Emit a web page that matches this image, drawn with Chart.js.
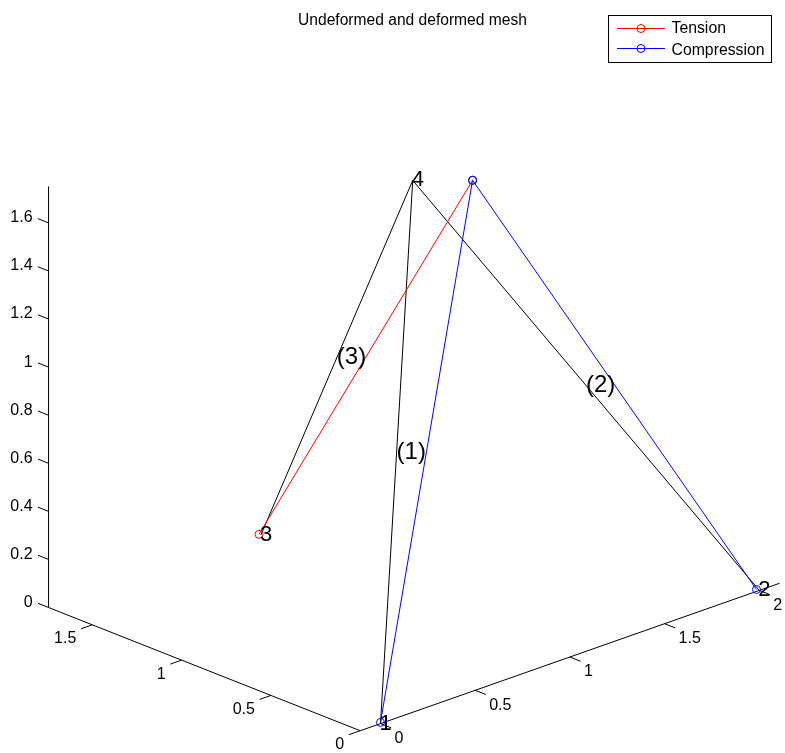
<!DOCTYPE html>
<html>
<head>
<meta charset="utf-8">
<title>Undeformed and deformed mesh</title>
<script src="https://cdn.jsdelivr.net/npm/chart.js@4"></script>
<style>
    html, body { margin: 0; padding: 0; background: #fff; }
    canvas { display: block; }
</style>
</head>
<body>
<canvas id="chart" width="785" height="753"></canvas>
<script>
const titleText = 'Undeformed and deformed mesh';
const legendNames = ['Tension', 'Compression'];
const legendColors = ['#ff0000', '#0000ff'];

const xTicks = [0, 0.5, 1, 1.5, 2];
const yTicks = [0, 0.5, 1, 1.5];
const zTicks = [0, 0.2, 0.4, 0.6, 0.8, 1, 1.2, 1.4, 1.6];
const xLimits = [-0.107, 2.107];
const yLimits = [0, 1.745];
const zLimits = [0, 1.752];

// undeformed nodes
const nodeX = [0, 2, 1, 1];
const nodeY = [0, 0, 1.73, 0.88];
const nodeZ = [0, 0, 0, 1.724];

// deformed nodes
const defX = [0, 1.985, 0.99, 1];
const defY = [0, 0, 1.73, 0.545];
const defZ = [0.005, 0.008, 0.005, 1.823];

const memberStart = [0, 1, 2];
const memberEnd = [3, 3, 3];
const memberKind = ['Compression', 'Compression', 'Tension'];

// view of the 3d box on the page, one unit of each axis in pixels
const origin = { x: 380.5, y: 723.6 };
const xStep = { x: 189.4, y: -66.6 };
const yStep = { x: -178.6, y: -70.6 };
const zStep = { x: 0, y: -240.4 };

const project = (x, y, z) => ({
    x: origin.x + x * xStep.x + y * yStep.x + z * zStep.x,
    y: origin.y + x * xStep.y + y * yStep.y + z * zStep.y,
});

const gap = { x: NaN, y: NaN };
const segment = (a, b) => [project(...a), project(...b), gap];

const axisLines = [
    ...segment([xLimits[0], 0, 0], [xLimits[1], 0, 0]),
    ...segment([xLimits[0], 0, 0], [xLimits[0], yLimits[1], 0]),
    ...segment([xLimits[0], yLimits[1], 0], [xLimits[0], yLimits[1], zLimits[1]]),
];

const tickLen = 0.06;
const tickLines = [
    ...xTicks.flatMap((t) => segment([t, 0, 0], [t, -tickLen, 0])),
    ...yTicks.flatMap((t) => segment([xLimits[0], t, 0], [xLimits[0] - tickLen, t, 0])),
    ...zTicks.flatMap((t) => segment([xLimits[0], yLimits[1], t], [xLimits[0], yLimits[1] + tickLen, t])),
];

const undeformedPts = memberStart.flatMap((s, i) => {
    const e = memberEnd[i];
    return segment([nodeX[s], nodeY[s], nodeZ[s]], [nodeX[e], nodeY[e], nodeZ[e]]);
});

const deformedPts = (kind) =>
    memberStart.flatMap((s, i) => {
        if (memberKind[i] !== kind) return [];
        const e = memberEnd[i];
        return segment([defX[s], defY[s], defZ[s]], [defX[e], defY[e], defZ[e]]);
    });

const lineSet = (label, data, color, radius) => ({
    label: label,
    data: data,
    showLine: true,
    spanGaps: false,
    borderColor: color,
    borderWidth: 1,
    backgroundColor: 'transparent',
    pointRadius: radius,
    pointBorderColor: color,
    pointBorderWidth: 1,
    pointBackgroundColor: 'transparent',
    clip: false,
});

const font = (size) => size + 'px "Liberation Sans", Arial, sans-serif';

const textPlugin = {
    id: 'meshText',
    afterDatasetsDraw(chart) {
        const { ctx, scales } = chart;
        const px = (p) => ({ x: scales.x.getPixelForValue(p.x), y: scales.y.getPixelForValue(p.y) });
        const put = (text, p, align) => {
            ctx.textAlign = align;
            ctx.fillText(text, p.x, p.y);
        };

        ctx.save();
        ctx.fillStyle = '#000';
        ctx.textBaseline = 'middle';

        // tick labels
        ctx.font = font(16);
        xTicks.forEach((t) => {
            const p = px(project(t, 0, 0));
            put(String(t), { x: p.x + 14, y: p.y + 15 }, 'left');
        });
        yTicks.forEach((t) => {
            const p = px(project(xLimits[0], t, 0));
            put(String(t), { x: p.x - 16, y: p.y + 14 }, 'right');
        });
        zTicks.forEach((t) => {
            const p = px(project(xLimits[0], yLimits[1], t));
            put(String(t), { x: p.x - 16, y: p.y - 5 }, 'right');
        });

        // node numbers and member numbers
        ctx.font = font(22);
        nodeX.forEach((v, i) => {
            const p = px(project(v, nodeY[i], nodeZ[i]));
            put(String(i + 1), { x: p.x - 1, y: p.y }, 'left');
        });
        ctx.font = font(24);
        memberStart.forEach((s, i) => {
            const e = memberEnd[i];
            const mid = project((nodeX[s] + nodeX[e]) / 2, (nodeY[s] + nodeY[e]) / 2, (nodeZ[s] + nodeZ[e]) / 2);
            put('(' + (i + 1) + ')', px(mid), 'left');
        });

        // title
        ctx.font = font(15.6);
        put(titleText, { x: 412.5, y: 20.5 }, 'center');

        // legend box
        ctx.fillStyle = '#fff';
        ctx.fillRect(608.5, 15.5, 163, 47);
        ctx.strokeStyle = '#000';
        ctx.lineWidth = 1;
        ctx.strokeRect(608.5, 15.5, 163, 47);
        ctx.font = font(15.8);
        legendNames.forEach((name, i) => {
            const y = 28.5 + i * 20;
            ctx.strokeStyle = legendColors[i];
            ctx.beginPath();
            ctx.moveTo(617, y);
            ctx.lineTo(665, y);
            ctx.stroke();
            ctx.beginPath();
            ctx.arc(641, y, 4, 0, Math.PI * 2);
            ctx.stroke();
            ctx.fillStyle = '#000';
            put(name, { x: 671.5, y: y + 0.5 + i * 1.5 }, 'left');
        });
        ctx.restore();
    },
};

new Chart(document.getElementById('chart').getContext('2d'), {
    type: 'scatter',
    data: {
        datasets: [
            lineSet('Compression', deformedPts('Compression'), legendColors[1], 4),
            // the far end of this member sits under the blue marker
            lineSet('Tension', deformedPts('Tension'), legendColors[0], [4, 0, 0]),
            lineSet('Undeformed', undeformedPts, '#000', 0),
            lineSet('Axes', axisLines, '#000', 0),
            lineSet('Ticks', tickLines, '#000', 0),
        ],
    },
    options: {
        responsive: false,
        animation: false,
        devicePixelRatio: 1,
        layout: { padding: 0, autoPadding: false },
        plugins: {
            legend: { display: false },
            title: { display: false },
            tooltip: { enabled: false },
        },
        scales: {
            x: { type: 'linear', display: false, min: 0, max: 785 },
            y: { type: 'linear', display: false, min: 0, max: 753, reverse: true },
        },
    },
    plugins: [textPlugin],
});
</script>
</body>
</html>
